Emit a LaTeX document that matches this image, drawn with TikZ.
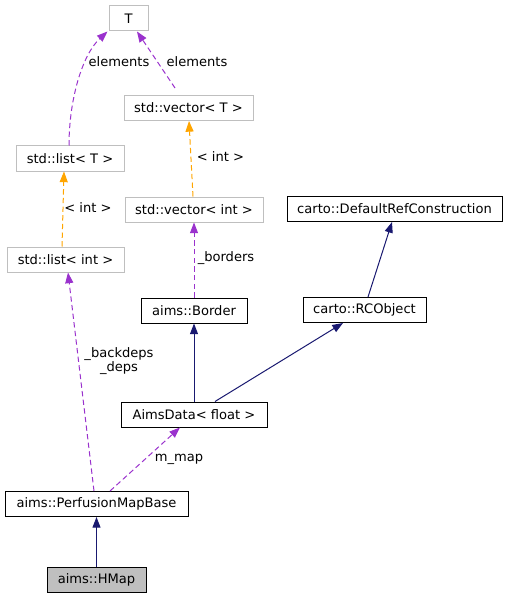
\documentclass[tikz,border=0pt]{standalone}
\usepackage{fontspec}
\setmainfont{DejaVu Sans}
\usetikzlibrary{arrows.meta,calc}
\definecolor{usecol}{HTML}{9A32CD}
\definecolor{tmplcol}{HTML}{FFA500}
\definecolor{inhcol}{HTML}{191970}
\definecolor{boxgrey}{HTML}{BFBFBF}

\begin{document}
\begin{tikzpicture}[x=0.75pt,y=-0.75pt,
    font=\fontsize{9.8}{11}\selectfont,
    box/.style={draw, line width=0.75pt, minimum height=18.75pt, inner sep=0pt},
    tmplbox/.style={box, draw=boxgrey},
    clsbox/.style={box, draw=black},
    usage/.style={usecol, dash pattern=on 4pt off 2.5pt, line width=0.75pt, -{Triangle[length=8pt,width=6pt]}},
    inst/.style={tmplcol, dash pattern=on 4pt off 2.5pt, line width=0.75pt, -{Triangle[length=8pt,width=6pt]}},
    inherit/.style={inhcol, line width=0.75pt, -{Triangle[length=8pt,width=6pt]}},
    lbl/.style={inner sep=0pt, align=center}]
\useasboundingbox (0,0) rectangle (508,599);

% Template boxes
\foreach \n/\x/\y/\w/\t in {T/128.5/18.5/39/T,
    vecT/188.5/108/129/{std::vector< T >},
    listT/70/158.5/108/{std::list< T >},
    vecint/194/209.5/138/{std::vector< int >},
    listint/65.5/259.5/117/{std::list< int >}} {
    \node[tmplbox, minimum width=0.75pt*\w] (\n) at (\x,\y) {\t};
}

% Class boxes
\foreach \n/\x/\y/\w/\t in {drc/394.5/209/215/{carto::DefaultRefConstruction},
    border/194/310.5/106/{aims::Border},
    rco/364.5/310/123/{carto::RCObject},
    aimsdata/194/414.5/146/{AimsData< float >},
    pmb/96.5/504/183/{aims::PerfusionMapBase}} {
    \node[clsbox, minimum width=0.75pt*\w] (\n) at (\x,\y) {\t};
}
\node[clsbox, fill=boxgrey, minimum width=74.25pt] (hmap) at (96.5,580) {aims::HMap};

% Inheritance
\draw[inherit] (hmap.north) -- (pmb.south);
\draw[inherit] (aimsdata.north) -- (border.south);
\draw[inherit] ($(aimsdata.north)+(21,0)$) -- ($(rco.south)+(-21.5,0)$);
\draw[inherit] ($(rco.north)+(3.5,0)$) -- ($(drc.south)+(-2.5,0)$);

% Template instances
\draw[inst] ($(vecint.north)+(-1,0)$) -- ($(vecT.south)+(0.5,0)$);
\node[lbl] (lvec) at (220.5,157) {< int >};
\draw[inst] ($(listint.north)+(-3.5,0)$) -- ($(listT.south)+(-6,0)$);
\node[lbl] (llist) at (88,208) {< int >};

% Usage
\draw[usage] ($(listT.north)+(-1,0)$) .. controls (69,100) and (82,55) .. ($(T.south west)+(-1,0)$);
\node[lbl] (lelem1) at (119,62) {elements};
\draw[usage] ($(vecT.north)+(-13.5,-7)$) -- ($(T.south)+(8.5,0)$);
\node[lbl] (lelem2) at (197,62) {elements};
\draw[usage] (border.north) -- (vecint.south);
\node[lbl] (lbord) at (226,258) {\_borders};
\draw[usage] ($(pmb.north)+(-2.5,0)$) -- ($(listint.south)+(2.5,0)$);
\node[lbl] (ldeps) at (119,361) {\_backdeps\\\_deps};
\draw[usage] ($(pmb.north)+(13.5,0)$) -- ($(aimsdata.south)+(-14,0)$);
\node[lbl] (lmap) at (179,459) {m\_map};
\end{tikzpicture}
\end{document}
